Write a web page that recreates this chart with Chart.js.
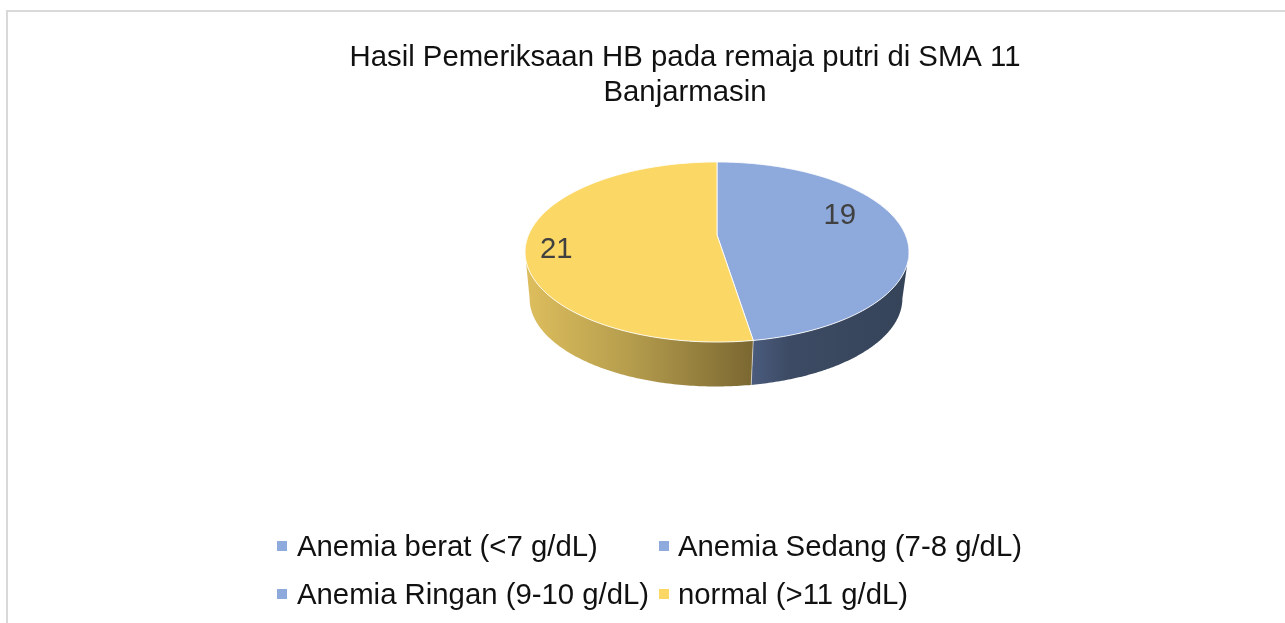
<!DOCTYPE html>
<html>
<head>
<meta charset="utf-8">
<script src="https://cdn.jsdelivr.net/npm/chart.js@4"></script>
<style>
html,body{margin:0;padding:0;background:#fff;overflow:hidden;width:1285px;height:623px}
#frame{position:absolute;left:6px;top:10px;width:1400px;height:700px;border-left:2px solid #d9d9d9;border-top:2px solid #d9d9d9}
canvas{position:absolute;left:0;top:0}
</style>
</head>
<body>
<div id="frame"></div>
<canvas id="c" width="1370" height="623"></canvas>
<script>
const categories = ['Anemia berat (<7 g/dL)', 'Anemia Sedang (7-8 g/dL)', 'Anemia Ringan (9-10 g/dL)', 'normal (>11 g/dL)'];
const values = [0, 0, 19, 21];
const sliceColors = ['#8faadc', '#8faadc', '#8ea9db', '#fbd766'];
const titleLines = ['Hasil Pemeriksaan HB pada remaja putri di SMA 11', 'Banjarmasin'];

const FONT = '"Liberation Sans", Arial, sans-serif';
const FONT_SIZE = 29.33;
const P = {cx: 717, apexY: 235, a: 42.4, c: -0.189, rx: 188.5};
function top3d(theta, f) {
  f = f === undefined ? 1 : f;
  const u = Math.sin(theta) * f, v = -Math.cos(theta) * f;
  const w = 1 + P.c * v;
  return [P.cx + P.rx * u / w, (P.a * v + P.apexY) / w];
}
function bottom3d(theta) {
  const t = top3d(theta);
  return [716 + (t[0] - P.cx) * 0.971, 298.5 + (t[1] - 252) * 0.977];
}
// The wall runs between the widest points of the tilted ellipse.
const SIDE = Math.acos(P.c);
const clampTheta = (s, e) => [Math.max(s, SIDE), Math.min(e, Math.PI * 2 - SIDE)];

// Arc faces are the library's elements, seen through the tilted projection.
Chart.ArcElement.prototype.draw = function (ctx) {
  const s = this.startAngle + Math.PI / 2, e = this.endAngle + Math.PI / 2;
  if (e - s < 1e-4) return;
  ctx.save();
  ctx.beginPath();
  const a = top3d(0, 0);
  ctx.moveTo(a[0], a[1]);
  const n = 200;
  for (let i = 0; i <= n; i++) {
    const p = top3d(s + (e - s) * i / n);
    ctx.lineTo(p[0], p[1]);
  }
  ctx.closePath();
  ctx.fillStyle = this.options.backgroundColor;
  ctx.fill();
  ctx.strokeStyle = 'rgba(255,255,255,0.85)';
  ctx.lineWidth = 1;
  ctx.lineJoin = 'round';
  ctx.stroke();
  ctx.restore();
};

const wallPlugin = {
  id: 'wall',
  beforeDatasetsDraw(chart) {
    const ctx = chart.ctx;
    const arcs = chart.getDatasetMeta(0).data;
    arcs.forEach((arc, idx) => {
      const s0 = arc.startAngle + Math.PI / 2, e0 = arc.endAngle + Math.PI / 2;
      if (e0 - s0 < 1e-4) return;
      const [s, e] = clampTheta(s0, e0);
      if (e <= s) return;
      const n = 120;
      ctx.save();
      ctx.beginPath();
      for (let i = 0; i <= n; i++) {
        const p = top3d(s + (e - s) * i / n);
        i ? ctx.lineTo(p[0], p[1]) : ctx.moveTo(p[0], p[1]);
      }
      for (let i = n; i >= 0; i--) {
        const p = bottom3d(s + (e - s) * i / n);
        ctx.lineTo(p[0], p[1]);
      }
      ctx.closePath();
      const isYellow = idx === 3;
      const g = ctx.createLinearGradient(isYellow ? 530 : 752, 0, isYellow ? 752 : 905, 0);
      if (isYellow) {
        g.addColorStop(0, '#dcbd5d');
        g.addColorStop(0.45, '#b59d4d');
        g.addColorStop(1, '#7b6832');
      } else {
        g.addColorStop(0, '#4a5b7d');
        g.addColorStop(0.25, '#3c4a63');
        g.addColorStop(1, '#36445a');
      }
      ctx.fillStyle = g;
      ctx.fill();
      if (isYellow) {
        const sp = top3d(s), sb = bottom3d(s);
        ctx.strokeStyle = 'rgba(255,255,255,0.55)';
        ctx.lineWidth = 1;
        ctx.beginPath();
        ctx.moveTo(sp[0], sp[1]);
        ctx.lineTo(sb[0], sb[1]);
        ctx.stroke();
      }
      ctx.restore();
    });
  }
};

const labelPlace = {2: {f: 0.66, dy: -15}, 3: {f: 0.845, dy: 9}};
const labelPlugin = {
  id: 'sliceLabels',
  afterDatasetsDraw(chart) {
    const ctx = chart.ctx;
    const arcs = chart.getDatasetMeta(0).data;
    ctx.save();
    ctx.font = FONT_SIZE + 'px ' + FONT;
    ctx.fillStyle = '#404040';
    ctx.textAlign = 'center';
    ctx.textBaseline = 'middle';
    arcs.forEach((arc, i) => {
      if (!values[i]) return;
      const mid = (arc.startAngle + arc.endAngle) / 2 + Math.PI / 2;
      const pl = labelPlace[i];
      const p = top3d(mid, pl.f);
      ctx.fillText(String(values[i]), p[0], p[1] + pl.dy);
    });
    ctx.restore();
  }
};

const legendPlugin = {
  id: 'gridLegend',
  afterDraw(chart) {
    const ctx = chart.ctx;
    const colBox = [277, 659], colText = [297, 678], rowY = [546, 594];
    ctx.save();
    ctx.font = FONT_SIZE + 'px ' + FONT;
    ctx.textBaseline = 'middle';
    ctx.textAlign = 'left';
    categories.forEach((name, i) => {
      const col = i % 2, row = Math.floor(i / 2);
      ctx.fillStyle = sliceColors[i];
      ctx.fillRect(colBox[col], rowY[row] - 5, 10, 10);
      ctx.fillStyle = '#111111';
      ctx.fillText(name, colText[col], rowY[row] + 1.5);
    });
    ctx.restore();
  }
};

new Chart(document.getElementById('c'), {
  type: 'pie',
  data: {labels: categories, datasets: [{data: values, backgroundColor: sliceColors, borderWidth: 0}]},
  options: {
    responsive: false,
    animation: false,
    plugins: {
      legend: {display: false},
      tooltip: {enabled: false},
      title: {
        display: true,
        text: titleLines,
        color: '#111111',
        font: {family: FONT, size: FONT_SIZE, weight: 'normal', lineHeight: 1.2},
        padding: {top: 40, bottom: 10}
      }
    }
  },
  plugins: [wallPlugin, labelPlugin, legendPlugin]
});
</script>
</body>
</html>
